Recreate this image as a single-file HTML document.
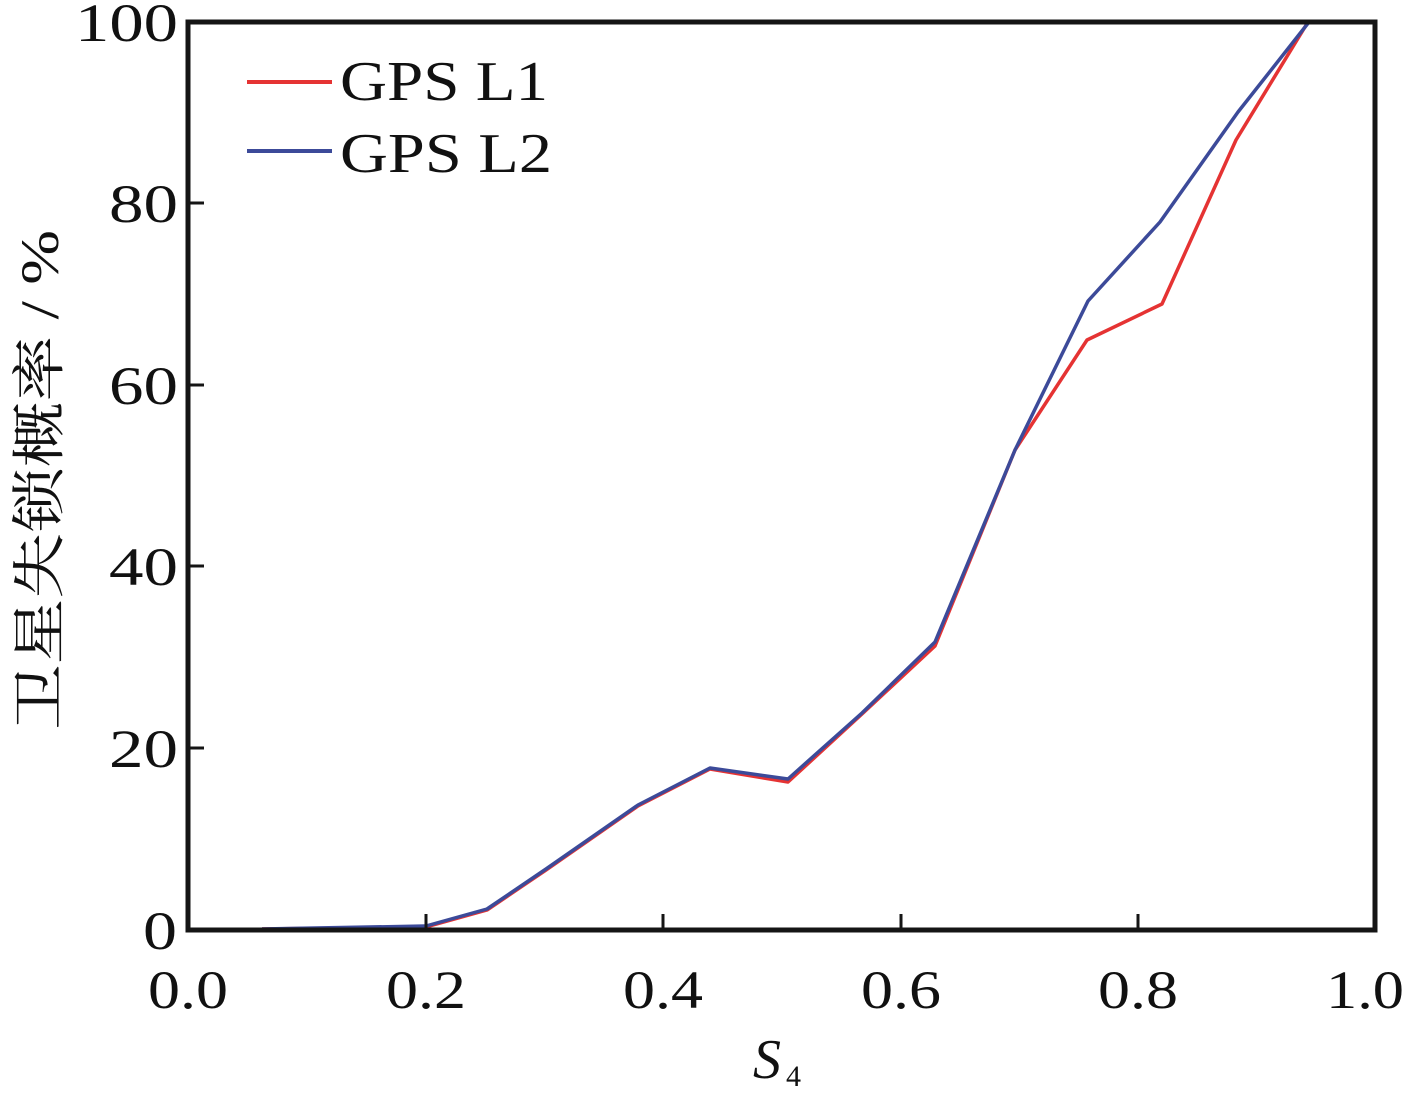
<!DOCTYPE html>
<html><head><style>
body{margin:0;background:#fff;}
svg text{font-family:"Liberation Serif","Noto Serif CJK SC",serif;fill:#111;}
</style></head><body>
<svg width="1406" height="1088" viewBox="0 0 1406 1088" xmlns="http://www.w3.org/2000/svg">
<rect x="0" y="0" width="1406" height="1088" fill="#fff"/>
<g fill="none" stroke-linejoin="round" stroke-width="3.5">
<polyline stroke="#e53333" points="262,929 426,927 487,910 546,870 638,806 710,769 788,782 862,714 935,646 1015,450 1087,340 1162,304 1236,140 1308,22"/>
<polyline stroke="#3c4a99" points="262,929 426,926 487,909 546,869 638,805 710,768 788,779 862,713 935,642 1015,450 1088,301 1160,222 1238,112 1309,22"/>
</g>
<rect x="188" y="22" width="1187" height="908" fill="none" stroke="#151515" stroke-width="5"/>
<g stroke="#151515" stroke-width="3">
<line x1="426" y1="930" x2="426" y2="914"/><line x1="663" y1="930" x2="663" y2="914"/><line x1="901" y1="930" x2="901" y2="914"/><line x1="1138" y1="930" x2="1138" y2="914"/>
<line x1="188" y1="748" x2="204" y2="748"/><line x1="188" y1="566" x2="204" y2="566"/><line x1="188" y1="385" x2="204" y2="385"/><line x1="188" y1="203" x2="204" y2="203"/>
</g>
<g font-size="54">
<text x="143" y="949" textLength="34" lengthAdjust="spacingAndGlyphs">0</text>
<text x="109" y="767" textLength="69" lengthAdjust="spacingAndGlyphs">20</text>
<text x="109" y="585" textLength="69" lengthAdjust="spacingAndGlyphs">40</text>
<text x="109" y="404" textLength="69" lengthAdjust="spacingAndGlyphs">60</text>
<text x="109" y="222" textLength="69" lengthAdjust="spacingAndGlyphs">80</text>
<text x="75" y="41" textLength="103" lengthAdjust="spacingAndGlyphs">100</text>
</g>
<g font-size="54">
<text x="148" y="1008" textLength="80" lengthAdjust="spacingAndGlyphs">0.0</text>
<text x="386" y="1008" textLength="80" lengthAdjust="spacingAndGlyphs">0.2</text>
<text x="623" y="1008" textLength="80" lengthAdjust="spacingAndGlyphs">0.4</text>
<text x="861" y="1008" textLength="80" lengthAdjust="spacingAndGlyphs">0.6</text>
<text x="1098" y="1008" textLength="80" lengthAdjust="spacingAndGlyphs">0.8</text>
<text x="1326" y="1008" textLength="78" lengthAdjust="spacingAndGlyphs">1.0</text>
</g>
<text x="753" y="1078" font-size="56" font-style="italic">S</text><text x="786" y="1086" font-size="30">4</text>
<text transform="translate(58,730) rotate(-90)" font-size="54" textLength="500" lengthAdjust="spacingAndGlyphs">卫星失锁概率 / %</text>
<line x1="247" y1="82" x2="332" y2="82" stroke="#e53333" stroke-width="4"/>
<line x1="247" y1="151" x2="332" y2="151" stroke="#3c4a99" stroke-width="4"/>
<g font-size="56"><text x="340" y="100" textLength="208" lengthAdjust="spacingAndGlyphs">GPS L1</text><text x="340" y="172" textLength="212" lengthAdjust="spacingAndGlyphs">GPS L2</text></g>
</svg>
</body></html>
